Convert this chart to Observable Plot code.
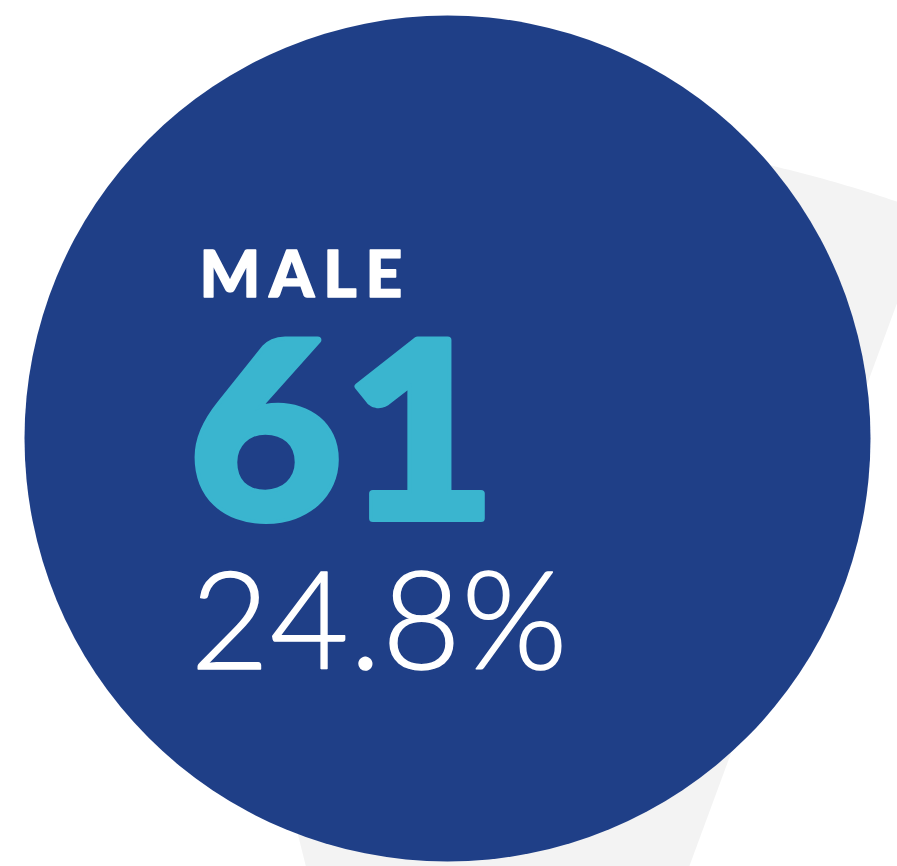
<!DOCTYPE html>
<html>
<head>
<meta charset="utf-8">
<script src="https://cdn.jsdelivr.net/npm/d3@7"></script>
<script src="https://cdn.jsdelivr.net/npm/@observablehq/plot@0.6"></script>
<style>
  html, body { margin: 0; padding: 0; background: #ffffff; }
  #chart svg { display: block; }
</style>
</head>
<body>
<div id="chart"></div>
<script>
// ---- data ----
const categories = ["MALE"];
const counts = [61];
const shares = [24.8];          // percent

// ---- layout / style (not data) ----
const W = 897, H = 866;
const circle = {cx: 447, cy: 438, r: 423};
const cone = {cx: 460, cy: 1486, r: 1357, a0: -14, a1: 20.3}; // decorative wedge behind
const colors = {blue: "#1f3f87", cyan: "#3ab5cf", grey: "#f3f3f3", white: "#ffffff"};

// decorative wedge polygon (apex + arc)
const wedge = [{x: cone.cx, y: cone.cy}];
for (let a = cone.a0; a <= cone.a1 + 1e-9; a += 0.25) {
  const t = a * Math.PI / 180;
  wedge.push({x: cone.cx + cone.r * Math.sin(t), y: cone.cy - cone.r * Math.cos(t)});
}
wedge.push({x: cone.cx, y: cone.cy});

const rows = categories.map((c, i) => ({category: c, count: counts[i], share: shares[i]}));

const chart = Plot.plot({
  width: W,
  height: H,
  margin: 0,
  x: {domain: [0, W], range: [0, W], axis: null},
  y: {domain: [0, H], range: [0, H], axis: null},
  style: {background: "#ffffff", overflow: "hidden"},
  marks: [
    Plot.line(wedge, {x: "x", y: "y", fill: colors.grey, stroke: "none", curve: "linear"}),
    Plot.dot(rows, {x: () => circle.cx, y: () => circle.cy, r: circle.r, fill: colors.blue, stroke: "none"}),
    Plot.text(rows, {
      x: () => 199, y: () => 296, text: d => d.category.toUpperCase(),
      textAnchor: "start", lineAnchor: "bottom",
      fontSize: 64, fontWeight: 900, fontFamily: "Lato", fill: colors.white,
      stroke: colors.white, strokeWidth: 1.5,
      className: "lbl-cat"
    }),
    Plot.text(rows, {
      x: () => 188, y: () => 518, text: d => String(d.count),
      textAnchor: "start", lineAnchor: "bottom",
      fontSize: 246, fontWeight: 900, fontFamily: "Lato", fill: colors.cyan,
      stroke: colors.cyan, strokeWidth: 7, strokeLinejoin: "round",
      className: "lbl-count"
    }),
    Plot.text(rows, {
      x: () => 190, y: () => 668, text: d => d.share.toFixed(1) + "%",
      textAnchor: "start", lineAnchor: "bottom",
      fontSize: 136, fontWeight: 300, fontFamily: "Lato", fill: colors.white,
      stroke: colors.white, strokeWidth: 1.5,
      className: "lbl-share"
    })
  ]
});

d3.select(chart).selectAll(".lbl-cat text").attr("letter-spacing", "0.14em");
d3.select(chart).selectAll(".lbl-share text").attr("letter-spacing", "0.005em");
// widen the heavy count figure horizontally around its left anchor
d3.select(chart).selectAll(".lbl-count text").each(function () {
  const el = d3.select(this);
  const tr = el.attr("transform") || "";
  const m = /translate\(([-\d.]+),\s*([-\d.]+)\)/.exec(tr);
  const x = m ? +m[1] : +(el.attr("x") || 0);
  const y = m ? +m[2] : +(el.attr("y") || 0);
  if (m) el.attr("transform", `translate(${x},${y}) scale(1.08,1)`);
  else el.attr("transform", `translate(${x},${y}) scale(1.08,1) translate(${-x},${-y})`);
});
document.getElementById("chart").appendChild(chart);
</script>
</body>
</html>
